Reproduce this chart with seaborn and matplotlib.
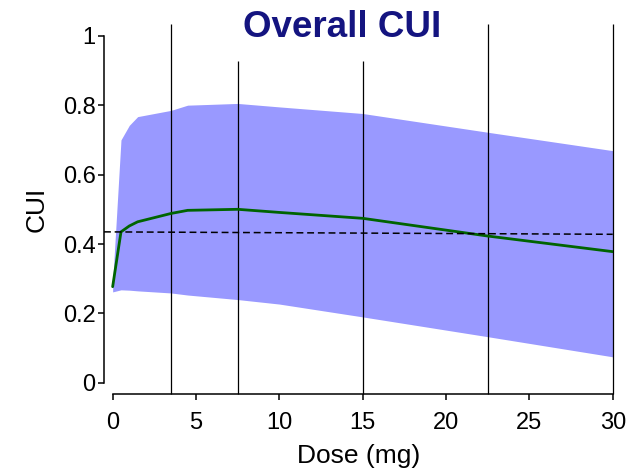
import numpy as np
import pandas as pd
import matplotlib
matplotlib.use("Agg")
import matplotlib.pyplot as plt
import seaborn as sns

dose = [0, 0.5, 1, 1.5, 3.5, 4.5, 7.5, 10, 15, 22.5, 30]
cui_median = [0.277, 0.435, 0.452, 0.464, 0.488, 0.497, 0.500, 0.491, 0.474, 0.423, 0.378]
cui_upper = [0.29, 0.70, 0.742, 0.767, 0.785, 0.800, 0.805, 0.795, 0.776, 0.722, 0.669]
cui_lower = [0.262, 0.268, 0.267, 0.265, 0.259, 0.253, 0.240, 0.227, 0.190, 0.133, 0.075]
ref_x = [-0.52, 30]
ref_y = [0.435, 0.428]
vline_x = [3.5, 7.5, 15, 22.5, 30]
vline_top = [1.034, 0.926, 0.926, 1.034, 1.034]
x_ticks = [0, 5, 10, 15, 20, 25, 30]
y_ticks = [0, 0.2, 0.4, 0.6, 0.8, 1]
y_ticklabels = ["0", "0.2", "0.4", "0.6", "0.8", "1"]

sns.set_style("ticks")
plt.rcParams['font.family'] = ['Liberation Sans', 'DejaVu Sans']

fig = plt.figure(figsize=(6.36, 4.72), dpi=100)
ax = fig.add_axes([0.1635, 0.1646, 0.9634 - 0.1635, 0.7854])

df = pd.DataFrame({"dose": dose, "median": cui_median})
ax.fill_between(dose, cui_lower, cui_upper, color="#9999ff", lw=0, zorder=1)
sns.lineplot(data=df, x="dose", y="median", ax=ax, color="#006400", lw=2.0, zorder=3)
line, = ax.plot(ref_x, ref_y, color="black", lw=1.1, zorder=4)
line.set_dashes([4.5, 2.5])
ax.vlines(vline_x, -0.033, vline_top, color="black", lw=0.9, zorder=2, clip_on=False)

ax.set_xlim(-0.52, 30)
ax.set_ylim(-0.033, 1.035)
ax.set_xticks(x_ticks)
ax.set_yticks(y_ticks)
ax.set_yticklabels(y_ticklabels)
for s in ["top", "right"]:
    ax.spines[s].set_visible(False)
ax.spines["left"].set_bounds(0, 1)
ax.spines["bottom"].set_bounds(0, 30)
for s in ["left", "bottom"]:
    ax.spines[s].set_linewidth(1.1)
    ax.spines[s].set_color("black")
ax.tick_params(axis="both", labelsize=17, width=1.1, length=4.5, colors="black")
ax.tick_params(axis="x", pad=8)
ax.tick_params(axis="y", pad=1.5)

ax.set_xlabel("Dose (mg)", fontsize=19, color="black")
ax.xaxis.label.set_va("baseline")
ax.xaxis.set_label_coords(0.5, (9 - 77.7) / 370.6)
ax.set_ylabel("CUI", fontsize=19, color="black")
ax.yaxis.label.set_va("baseline")
ax.yaxis.set_label_coords((43.5 - 104) / 508.7, 0.5)

fig.text(342 / 636, 1 - 37 / 472, "Overall CUI", ha="center", va="baseline",
         fontsize=26.5, fontweight="bold", color="#141480")

fig.savefig("out.png", dpi=100)
